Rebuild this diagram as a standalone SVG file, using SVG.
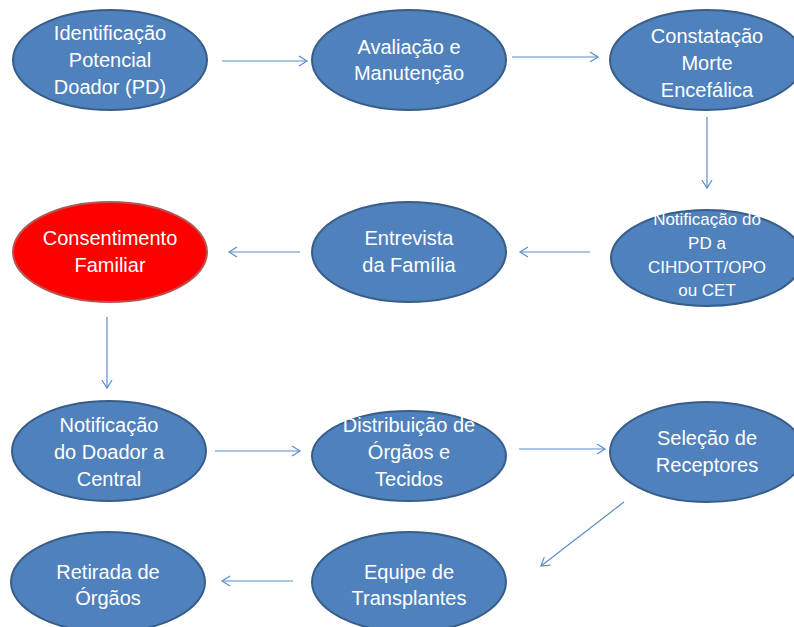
<svg xmlns="http://www.w3.org/2000/svg" width="794" height="627" viewBox="0 0 794 627">
<defs>
<marker id="ah" markerWidth="12" markerHeight="12" viewBox="0 0 12 12" refX="10" refY="6" orient="auto" markerUnits="userSpaceOnUse">
<path d="M2,1 L10,6 L2,11" fill="none" stroke="#5B8BC9" stroke-width="1.2"/>
</marker>
</defs>
<style>
.n{fill:#4F81BD;stroke:#385D8A;stroke-width:2}
.r{fill:#FF0000;stroke:#B85450;stroke-width:2}
.t{font-family:"Liberation Sans",Arial,sans-serif;font-size:20px;fill:#FFFFFF;text-anchor:middle}
.s{font-size:17px}
.c{stroke:#5B8BC9;stroke-width:1.2;fill:none;marker-end:url(#ah)}
</style>
<rect width="794" height="627" fill="#FFFFFF"/>
<g id="connectors">
<line class="c" x1="222" y1="61" x2="307" y2="61"/>
<line class="c" x1="512" y1="57" x2="598" y2="57"/>
<line class="c" x1="707" y1="117" x2="707" y2="188"/>
<line class="c" x1="590" y1="252" x2="520" y2="252"/>
<line class="c" x1="300" y1="252" x2="229" y2="252"/>
<line class="c" x1="107" y1="317" x2="107" y2="388"/>
<line class="c" x1="215" y1="451" x2="300" y2="451"/>
<line class="c" x1="519" y1="449" x2="605" y2="449"/>
<line class="c" x1="624" y1="502" x2="541" y2="566"/>
<line class="c" x1="293" y1="581" x2="222" y2="581"/>
</g>
<g id="n1"><ellipse class="n" cx="110" cy="60" rx="97" ry="50"/>
<text class="t"><tspan x="110" y="40">Identificação</tspan><tspan x="110" y="67">Potencial</tspan><tspan x="110" y="94">Doador (PD)</tspan></text></g>
<g id="n2"><ellipse class="n" cx="409" cy="60" rx="97" ry="50"/>
<text class="t"><tspan x="409" y="54">Avaliação e</tspan><tspan x="409" y="80">Manutenção</tspan></text></g>
<g id="n3"><ellipse class="n" cx="707" cy="60" rx="97" ry="50"/>
<text class="t"><tspan x="707" y="43">Constatação</tspan><tspan x="707" y="70">Morte</tspan><tspan x="707" y="97">Encefálica</tspan></text></g>
<g id="n4"><ellipse class="n" cx="707" cy="258" rx="96" ry="48"/>
<text class="t s"><tspan x="707" y="225">Notificação do</tspan><tspan x="707" y="249">PD a</tspan><tspan x="707" y="273">CIHDOTT/OPO</tspan><tspan x="707" y="296">ou CET</tspan></text></g>
<g id="n5"><ellipse class="n" cx="409" cy="252" rx="97" ry="50"/>
<text class="t"><tspan x="409" y="245">Entrevista</tspan><tspan x="409" y="272">da Família</tspan></text></g>
<g id="n6"><ellipse class="r" cx="110" cy="252" rx="97" ry="50"/>
<text class="t"><tspan x="110" y="245">Consentimento</tspan><tspan x="110" y="272">Familiar</tspan></text></g>
<g id="n7"><ellipse class="n" cx="109" cy="451" rx="97" ry="50"/>
<text class="t"><tspan x="109" y="432">Notificação</tspan><tspan x="109" y="459">do Doador a</tspan><tspan x="109" y="486">Central</tspan></text></g>
<g id="n8"><ellipse class="n" cx="409" cy="456" rx="97" ry="45"/>
<text class="t"><tspan x="409" y="432">Distribuição de</tspan><tspan x="409" y="459">Órgãos e</tspan><tspan x="409" y="486">Tecidos</tspan></text></g>
<g id="n9"><ellipse class="n" cx="707" cy="452" rx="97" ry="50"/>
<text class="t"><tspan x="707" y="445">Seleção de</tspan><tspan x="707" y="472">Receptores</tspan></text></g>
<g id="n10"><ellipse class="n" cx="409" cy="582" rx="97" ry="50"/>
<text class="t"><tspan x="409" y="579">Equipe de</tspan><tspan x="409" y="605">Transplantes</tspan></text></g>
<g id="n11"><ellipse class="n" cx="108" cy="582" rx="97" ry="50"/>
<text class="t"><tspan x="108" y="579">Retirada de</tspan><tspan x="108" y="605">Órgãos</tspan></text></g>
</svg>
